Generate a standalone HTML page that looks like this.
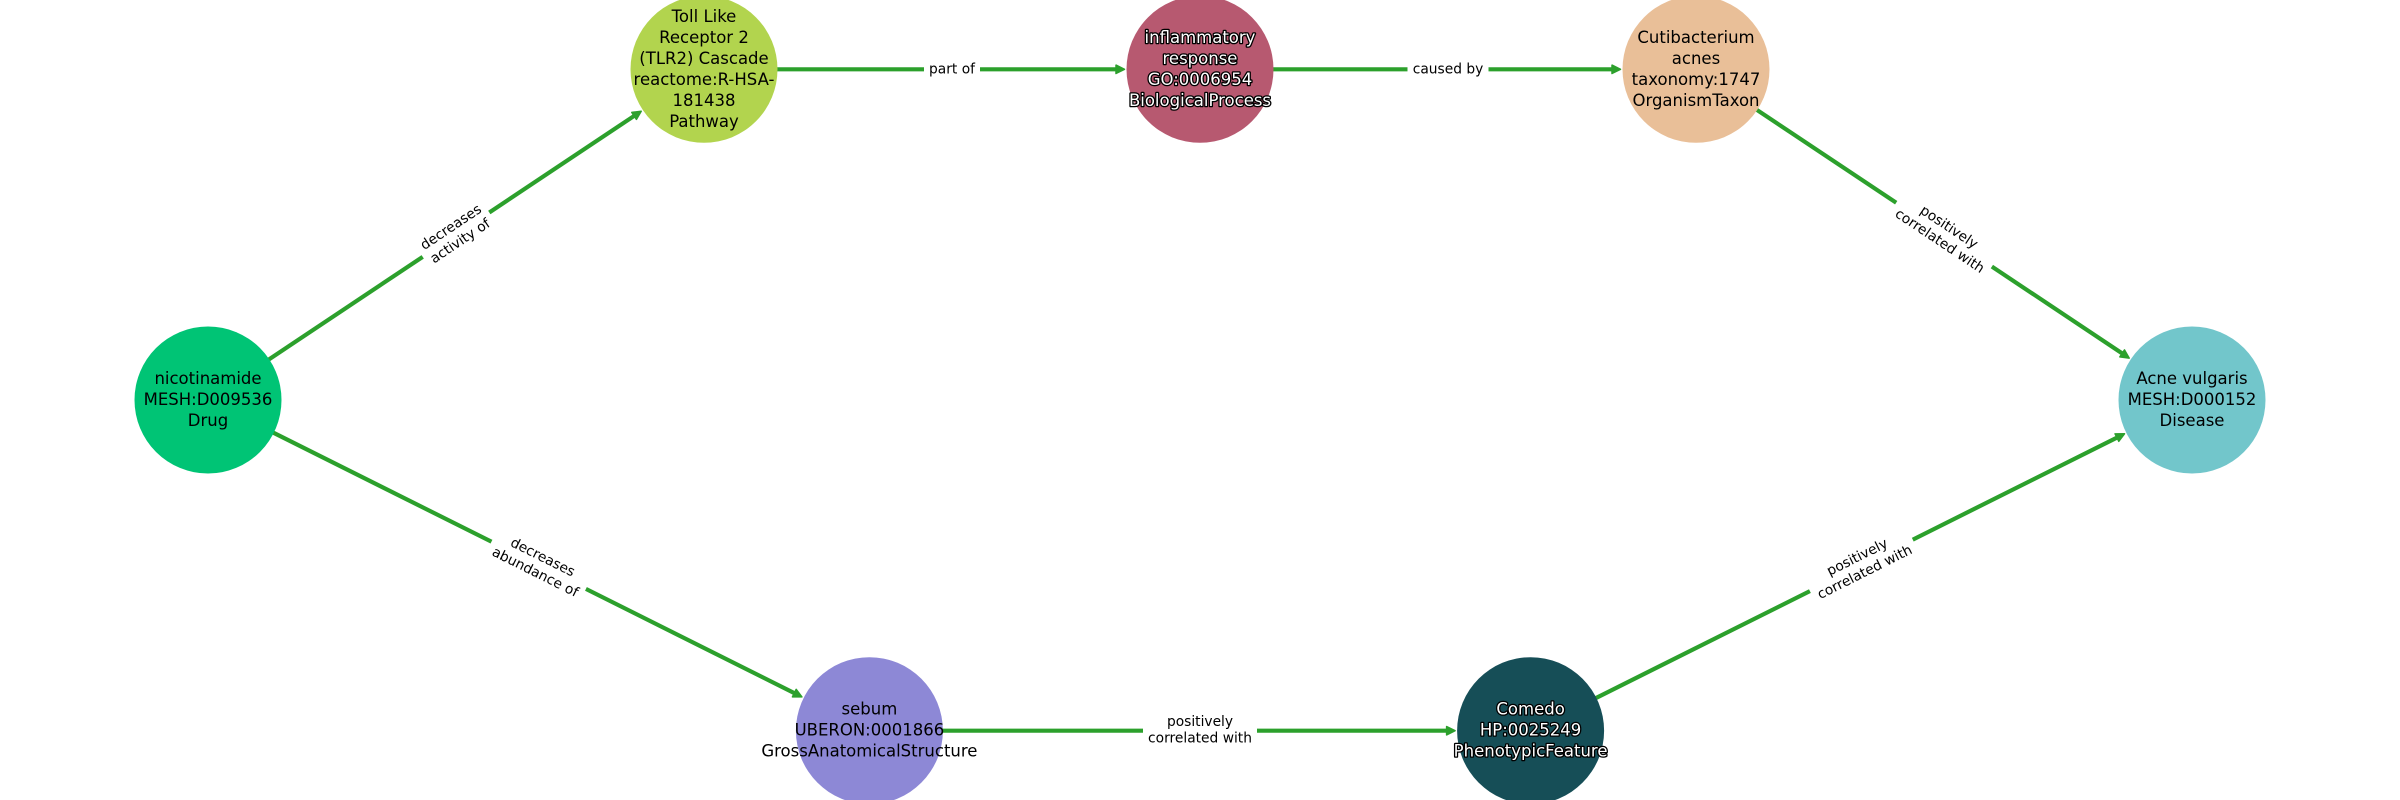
<!DOCTYPE html>
<html>
<head>
<meta charset="utf-8">
<style>
html,body{margin:0;padding:0;background:#fff;width:2400px;height:800px;overflow:hidden}
svg{display:block}
text{font-family:"DejaVu Sans","Liberation Sans",sans-serif;text-anchor:middle}
.n{font-size:16.5px;fill:#000}
.w{font-size:16.5px;fill:#fff;stroke:#000;stroke-width:2.6px;paint-order:stroke;stroke-linejoin:round}
.e{font-size:13.8px;fill:#000}
line{stroke:#2ca02c;stroke-width:4.17}
</style>
</head>
<body>
<svg width="2400" height="800" viewBox="0 0 2400 800" xmlns="http://www.w3.org/2000/svg">
<defs>
<marker id="a" markerUnits="userSpaceOnUse" markerWidth="16" markerHeight="16" refX="3" refY="8" orient="auto" viewBox="0 0 16 16">
<path d="M1,3.8 L9.5,8 L1,12.2 Z" fill="#2ca02c" stroke="#2ca02c" stroke-width="1.5" stroke-linejoin="round"/>
</marker>
</defs>
<rect width="2400" height="800" fill="#fff"/>

<line x1="208" y1="400" x2="635.8" y2="114.8" marker-end="url(#a)"/>
<line x1="208" y1="400" x2="796.1" y2="694" marker-end="url(#a)"/>
<line x1="704" y1="69.3" x2="1118" y2="69.3" marker-end="url(#a)"/>
<line x1="1200" y1="69.3" x2="1614" y2="69.3" marker-end="url(#a)"/>
<line x1="1696" y1="69.3" x2="2123.8" y2="354.5" marker-end="url(#a)"/>
<line x1="869.4" y1="730.7" x2="1448.6" y2="730.7" marker-end="url(#a)"/>
<line x1="1530.6" y1="730.7" x2="2118.7" y2="436.7" marker-end="url(#a)"/>

<g transform="translate(456,234.7) rotate(-33.7)">
<rect x="-40" y="-21" width="80" height="42" fill="#fff"/>
<text class="e" y="-4.7">decreases</text><text class="e" y="12">activity of</text>
</g>
<g transform="translate(538.7,565.3) rotate(26.57)">
<rect x="-52.8" y="-21" width="105.6" height="42" fill="#fff"/>
<text class="e" y="-4.7">decreases</text><text class="e" y="12">abundance of</text>
</g>
<g transform="translate(952,69.3)">
<rect x="-28" y="-13" width="56" height="26" fill="#fff"/>
<text class="e" y="4.3">part of</text>
</g>
<g transform="translate(1448,69.3)">
<rect x="-40.5" y="-13" width="81" height="26" fill="#fff"/>
<text class="e" y="4.3">caused by</text>
</g>
<g transform="translate(1944,234.7) rotate(33.7)">
<rect x="-57.5" y="-21" width="115" height="42" fill="#fff"/>
<text class="e" y="-4.7">positively</text><text class="e" y="12">correlated with</text>
</g>
<g transform="translate(1200,730.7)">
<rect x="-57" y="-21" width="114" height="42" fill="#fff"/>
<text class="e" y="-4.7">positively</text><text class="e" y="12">correlated with</text>
</g>
<g transform="translate(1861.3,565.3) rotate(-26.57)">
<rect x="-57.5" y="-21" width="115" height="42" fill="#fff"/>
<text class="e" y="-4.7">positively</text><text class="e" y="12">correlated with</text>
</g>

<circle cx="208" cy="400" r="73.5" fill="#00c475"/>
<circle cx="704" cy="69.3" r="73.5" fill="#b2d44e"/>
<circle cx="1200" cy="69.3" r="73.5" fill="#b75970"/>
<circle cx="1696" cy="69.3" r="73.5" fill="#e9bf98"/>
<circle cx="2192" cy="400" r="73.5" fill="#72c6cb"/>
<circle cx="869.4" cy="730.7" r="73.5" fill="#8d88d6"/>
<circle cx="1530.6" cy="730.7" r="73.5" fill="#164e57"/>

<text class="n" x="208" y="384">nicotinamide</text>
<text class="n" x="208" y="405">MESH:D009536</text>
<text class="n" x="208" y="426">Drug</text>

<text class="n" x="704" y="21.8">Toll Like</text>
<text class="n" x="704" y="42.8">Receptor 2</text>
<text class="n" x="704" y="63.8">(TLR2) Cascade</text>
<text class="n" x="704" y="84.8">reactome:R-HSA-</text>
<text class="n" x="704" y="105.8">181438</text>
<text class="n" x="704" y="126.8">Pathway</text>

<text class="w" x="1200" y="42.8">inflammatory</text>
<text class="w" x="1200" y="63.8">response</text>
<text class="w" x="1200" y="84.8">GO:0006954</text>
<text class="w" x="1200" y="105.8">BiologicalProcess</text>

<text class="n" x="1696" y="42.8">Cutibacterium</text>
<text class="n" x="1696" y="63.8">acnes</text>
<text class="n" x="1696" y="84.8">taxonomy:1747</text>
<text class="n" x="1696" y="105.8">OrganismTaxon</text>

<text class="n" x="2192" y="384">Acne vulgaris</text>
<text class="n" x="2192" y="405">MESH:D000152</text>
<text class="n" x="2192" y="426">Disease</text>

<text class="n" x="869.4" y="714.7">sebum</text>
<text class="n" x="869.4" y="735.7">UBERON:0001866</text>
<text class="n" x="869.4" y="756.7">GrossAnatomicalStructure</text>

<text class="w" x="1530.6" y="714.7">Comedo</text>
<text class="w" x="1530.6" y="735.7">HP:0025249</text>
<text class="w" x="1530.6" y="756.7">PhenotypicFeature</text>
</svg>
</body>
</html>
